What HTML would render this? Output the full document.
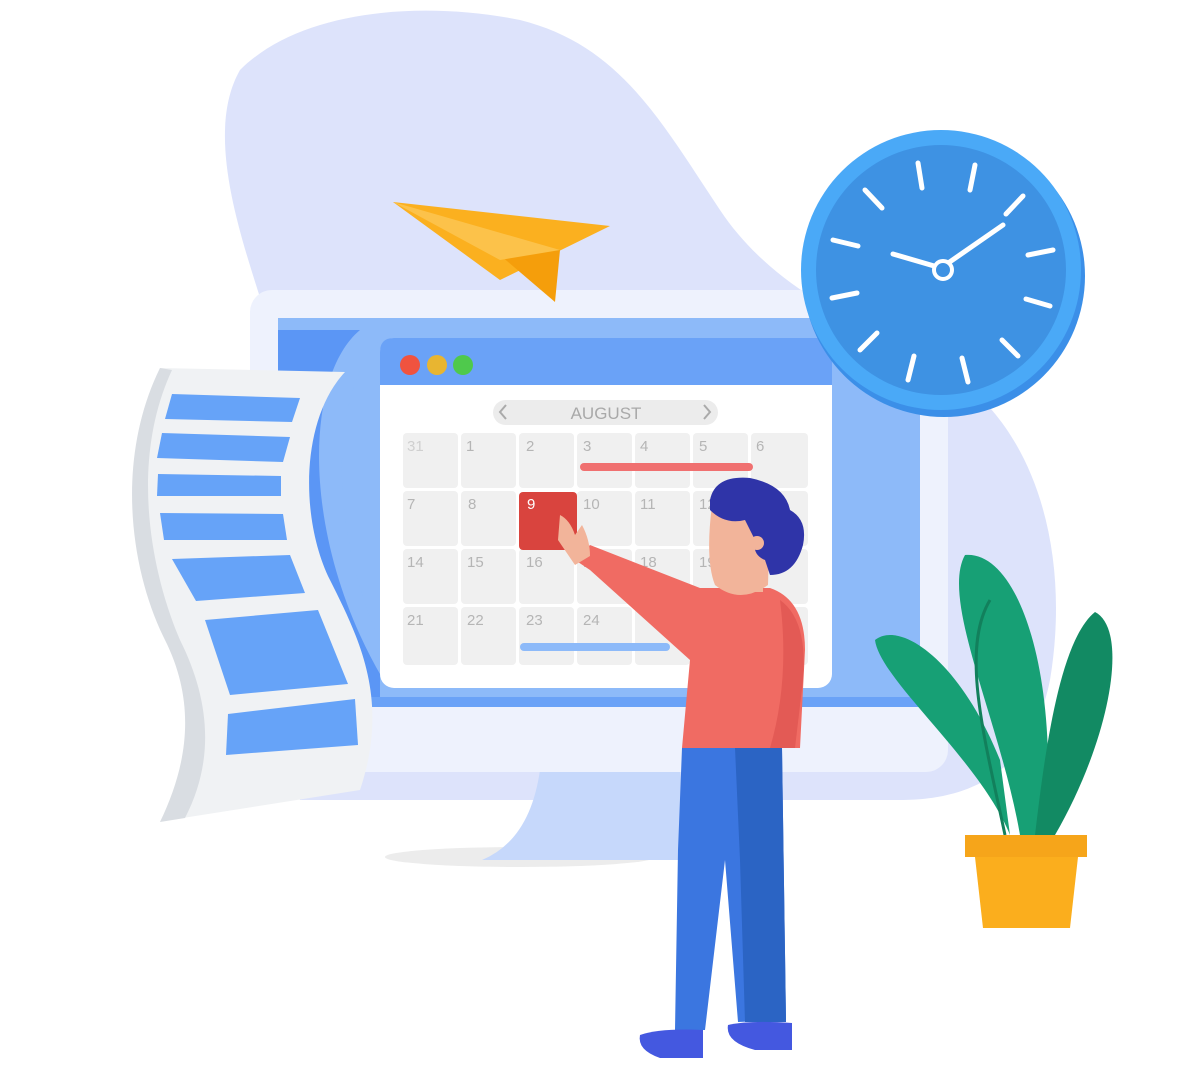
<!DOCTYPE html>
<html><head><meta charset="utf-8"><style>
html,body{margin:0;padding:0;background:#fff;}
svg{display:block;}
text{font-family:"Liberation Sans",sans-serif;}
</style></head><body>
<svg width="1200" height="1083" viewBox="0 0 1200 1083" xmlns="http://www.w3.org/2000/svg">
<!-- background blob -->
<path d="M240 70 C300 10 420 0 520 20 C620 45 660 120 720 210 C780 300 880 330 960 380 C1040 440 1070 560 1050 680 C1030 780 960 800 900 800 L300 800 C250 700 260 500 270 330 C250 260 200 140 240 70 Z" fill="#dde3fb"/>
<!-- monitor stand -->
<ellipse cx="520" cy="857" rx="135" ry="10" fill="#ececec"/>
<path d="M540 770 L680 770 L690 860 L482 860 Q530 840 540 770 Z" fill="#c6d8fb"/>
<!-- monitor -->
<rect x="250" y="290" width="698" height="482" rx="22" fill="#eef2fd"/>
<rect x="278" y="318" width="642" height="388" fill="#8dbaf9"/>
<path d="M278 318 L300 318 L300 706 L278 706 Z" fill="#8dbaf9"/>
<path d="M360 330 C300 380 300 560 400 706 L278 706 L278 330 Z" fill="#5b96f5"/>
<path d="M380 340 C325 400 325 560 410 700 L380 700 Z" fill="#8dbaf9"/>
<rect x="278" y="697" width="642" height="10" fill="#6aa2f7"/>
<!-- browser window -->
<rect x="380" y="338" width="452" height="350" rx="14" fill="#fff"/>
<path d="M380 385 L380 352 Q380 338 394 338 L818 338 Q832 338 832 352 L832 385 Z" fill="#6aa2f7"/>
<circle cx="410" cy="365" r="10" fill="#f0533f"/>
<circle cx="437" cy="365" r="10" fill="#e8b531"/>
<circle cx="463" cy="365" r="10" fill="#4fc94c"/>
<rect x="493" y="400" width="225" height="25" rx="12.5" fill="#ececec"/>
<text x="606" y="419" font-size="17" fill="#a9a9a9" text-anchor="middle">AUGUST</text>
<path d="M506 405 L500 412 L506 419" stroke="#aaa" stroke-width="2" fill="none"/>
<path d="M704 405 L710 412 L704 419" stroke="#aaa" stroke-width="2" fill="none"/>
<g fill="#f0f0f0">
<rect x="403" y="433" width="55" height="55" rx="4"/><rect x="461" y="433" width="55" height="55" rx="4"/><rect x="519" y="433" width="55" height="55" rx="4"/><rect x="577" y="433" width="55" height="55" rx="4"/><rect x="635" y="433" width="55" height="55" rx="4"/><rect x="693" y="433" width="55" height="55" rx="4"/><rect x="751" y="433" width="57" height="55" rx="4"/>
<rect x="403" y="491" width="55" height="55" rx="4"/><rect x="461" y="491" width="55" height="55" rx="4"/><rect x="577" y="491" width="55" height="55" rx="4"/><rect x="635" y="491" width="55" height="55" rx="4"/><rect x="693" y="491" width="55" height="55" rx="4"/><rect x="751" y="491" width="57" height="55" rx="4"/>
<rect x="403" y="549" width="55" height="55" rx="4"/><rect x="461" y="549" width="55" height="55" rx="4"/><rect x="519" y="549" width="55" height="55" rx="4"/><rect x="577" y="549" width="55" height="55" rx="4"/><rect x="635" y="549" width="55" height="55" rx="4"/><rect x="693" y="549" width="55" height="55" rx="4"/><rect x="751" y="549" width="57" height="55" rx="4"/>
<rect x="403" y="607" width="55" height="58" rx="4"/><rect x="461" y="607" width="55" height="58" rx="4"/><rect x="519" y="607" width="55" height="58" rx="4"/><rect x="577" y="607" width="55" height="58" rx="4"/><rect x="635" y="607" width="55" height="58" rx="4"/><rect x="693" y="607" width="55" height="58" rx="4"/><rect x="751" y="607" width="57" height="58" rx="4"/>
</g>
<rect x="519" y="492" width="58" height="58" rx="4" fill="#d9443e"/>
<g font-size="15" fill="#b5b5b5">
<text x="407" y="451" fill="#d0d0d0">31</text><text x="466" y="451">1</text><text x="526" y="451">2</text><text x="583" y="451">3</text><text x="640" y="451">4</text><text x="699" y="451">5</text><text x="756" y="451">6</text>
<text x="407" y="509">7</text><text x="468" y="509">8</text><text x="527" y="509" fill="#fff">9</text><text x="583" y="509">10</text><text x="640" y="509">11</text><text x="699" y="509">12</text>
<text x="407" y="567">14</text><text x="467" y="567">15</text><text x="526" y="567">16</text><text x="583" y="567">17</text><text x="640" y="567">18</text><text x="699" y="567">19</text>
<text x="407" y="625">21</text><text x="467" y="625">22</text><text x="526" y="625">23</text><text x="583" y="625">24</text>
</g>
<rect x="580" y="463" width="173" height="8" rx="4" fill="#f07070"/>
<rect x="520" y="643" width="150" height="8" rx="4" fill="#8dbaf9"/>
<!-- scroll paper -->
<path d="M160 368 L345 372 C300 420 300 520 330 580 C360 640 390 700 360 790 L170 820 C200 760 200 700 170 640 C140 580 110 470 160 368 Z" fill="#f0f2f4"/>
<path d="M160 368 L172 370 C130 460 150 570 180 640 C210 700 215 760 185 818 L160 822 C190 760 195 700 165 640 C130 570 115 460 160 368 Z" fill="#d9dde2"/>
<g fill="#66a3f8">
<path d="M172 394 L300 398 L292 422 L165 419 Z"/>
<path d="M162 433 L290 437 L283 462 L157 458 Z"/>
<path d="M158 474 L281 476 L281 496 L157 496 Z"/>
<path d="M160 513 L283 514 L287 540 L164 540 Z"/>
<path d="M172 559 L290 555 L305 593 L196 601 Z"/>
<path d="M205 620 L318 610 L348 684 L230 695 Z"/>
<path d="M228 714 L355 699 L358 745 L226 755 Z"/>
</g>
<!-- paper plane -->
<path d="M393 202 L610 226 L500 280 Z" fill="#fbb01f"/>
<path d="M500 255 L560 250 L555 302 Z" fill="#f59e0b"/>
<path d="M393 202 L560 250 L500 260 Z" fill="#fcc24a"/>
<!-- clock -->
<circle cx="944" cy="276" r="141" fill="#3b8fe8"/>
<circle cx="941" cy="270" r="140" fill="#4aa9f7"/>
<circle cx="941" cy="270" r="125" fill="#3e92e3"/>
<g stroke="#fff" stroke-width="5" stroke-linecap="round">
<line x1="918" y1="163" x2="922" y2="188"/><line x1="975" y1="165" x2="970" y2="190"/>
<line x1="865" y1="190" x2="882" y2="208"/><line x1="1023" y1="196" x2="1006" y2="214"/>
<line x1="833" y1="240" x2="858" y2="246"/><line x1="1053" y1="250" x2="1028" y2="255"/>
<line x1="832" y1="298" x2="857" y2="293"/><line x1="1050" y1="306" x2="1026" y2="299"/>
<line x1="860" y1="350" x2="877" y2="333"/><line x1="1018" y1="356" x2="1002" y2="340"/>
<line x1="908" y1="380" x2="914" y2="356"/><line x1="968" y1="382" x2="962" y2="358"/>
<line x1="941" y1="268" x2="1003" y2="225"/><line x1="941" y1="268" x2="893" y2="254"/>
</g>
<circle cx="943" cy="270" r="9" fill="#3e92e3" stroke="#fff" stroke-width="4"/>
<!-- plant -->
<path d="M1010 835 C980 760 880 680 875 640 C900 620 960 660 1000 760 Z" fill="#17a075"/>
<path d="M1020 835 C1000 720 940 600 965 555 C1020 550 1060 680 1045 835 Z" fill="#17a075"/>
<path d="M1035 835 C1045 750 1060 640 1095 612 C1130 630 1110 740 1055 835 Z" fill="#128a63"/>
<path d="M1005 835 C985 740 960 650 990 600" stroke="#12805c" stroke-width="3" fill="none"/>
<rect x="965" y="835" width="122" height="22" fill="#f6a51a"/>
<path d="M975 857 L1078 857 L1070 928 L983 928 Z" fill="#fbae1d"/>
<!-- person -->
<path d="M682 748 L782 748 L786 1020 L738 1022 L725 860 L705 1030 L675 1030 L678 850 Z" fill="#3b76e0"/>
<path d="M735 748 L782 748 L786 1022 L745 1022 L740 860 Z" fill="#2b64c4"/>
<path d="M640 1035 Q660 1028 703 1030 L703 1058 L660 1058 Q637 1050 640 1035 Z" fill="#4458e0"/>
<path d="M728 1025 Q750 1020 792 1023 L792 1050 L755 1050 Q725 1042 728 1025 Z" fill="#4458e0"/>
<path d="M700 588 L770 588 Q805 600 805 650 L800 748 L682 748 L690 660 L590 570 L575 560 L590 545 Z" fill="#f06b63"/>
<path d="M780 600 Q808 620 803 680 L795 748 L770 748 Q790 680 780 600 Z" fill="#e35a55"/>
<rect x="728" y="570" width="35" height="22" fill="#f2b49a"/>
<path d="M712 505 Q745 495 770 515 L768 585 Q740 605 715 585 Q705 560 712 505 Z" fill="#f2b49a"/>
<path d="M710 500 Q715 475 750 478 Q785 485 790 510 Q808 520 803 545 Q795 575 770 575 L765 560 Q752 555 755 540 L745 520 Q725 525 710 510 Z" fill="#2f34a8"/>
<circle cx="757" cy="543" r="7" fill="#f2b49a"/>
<path d="M575 565 L558 540 L560 515 Q570 520 575 535 L582 525 Q590 540 590 556 Z" fill="#f2b49a"/>
</svg>
</body></html>
